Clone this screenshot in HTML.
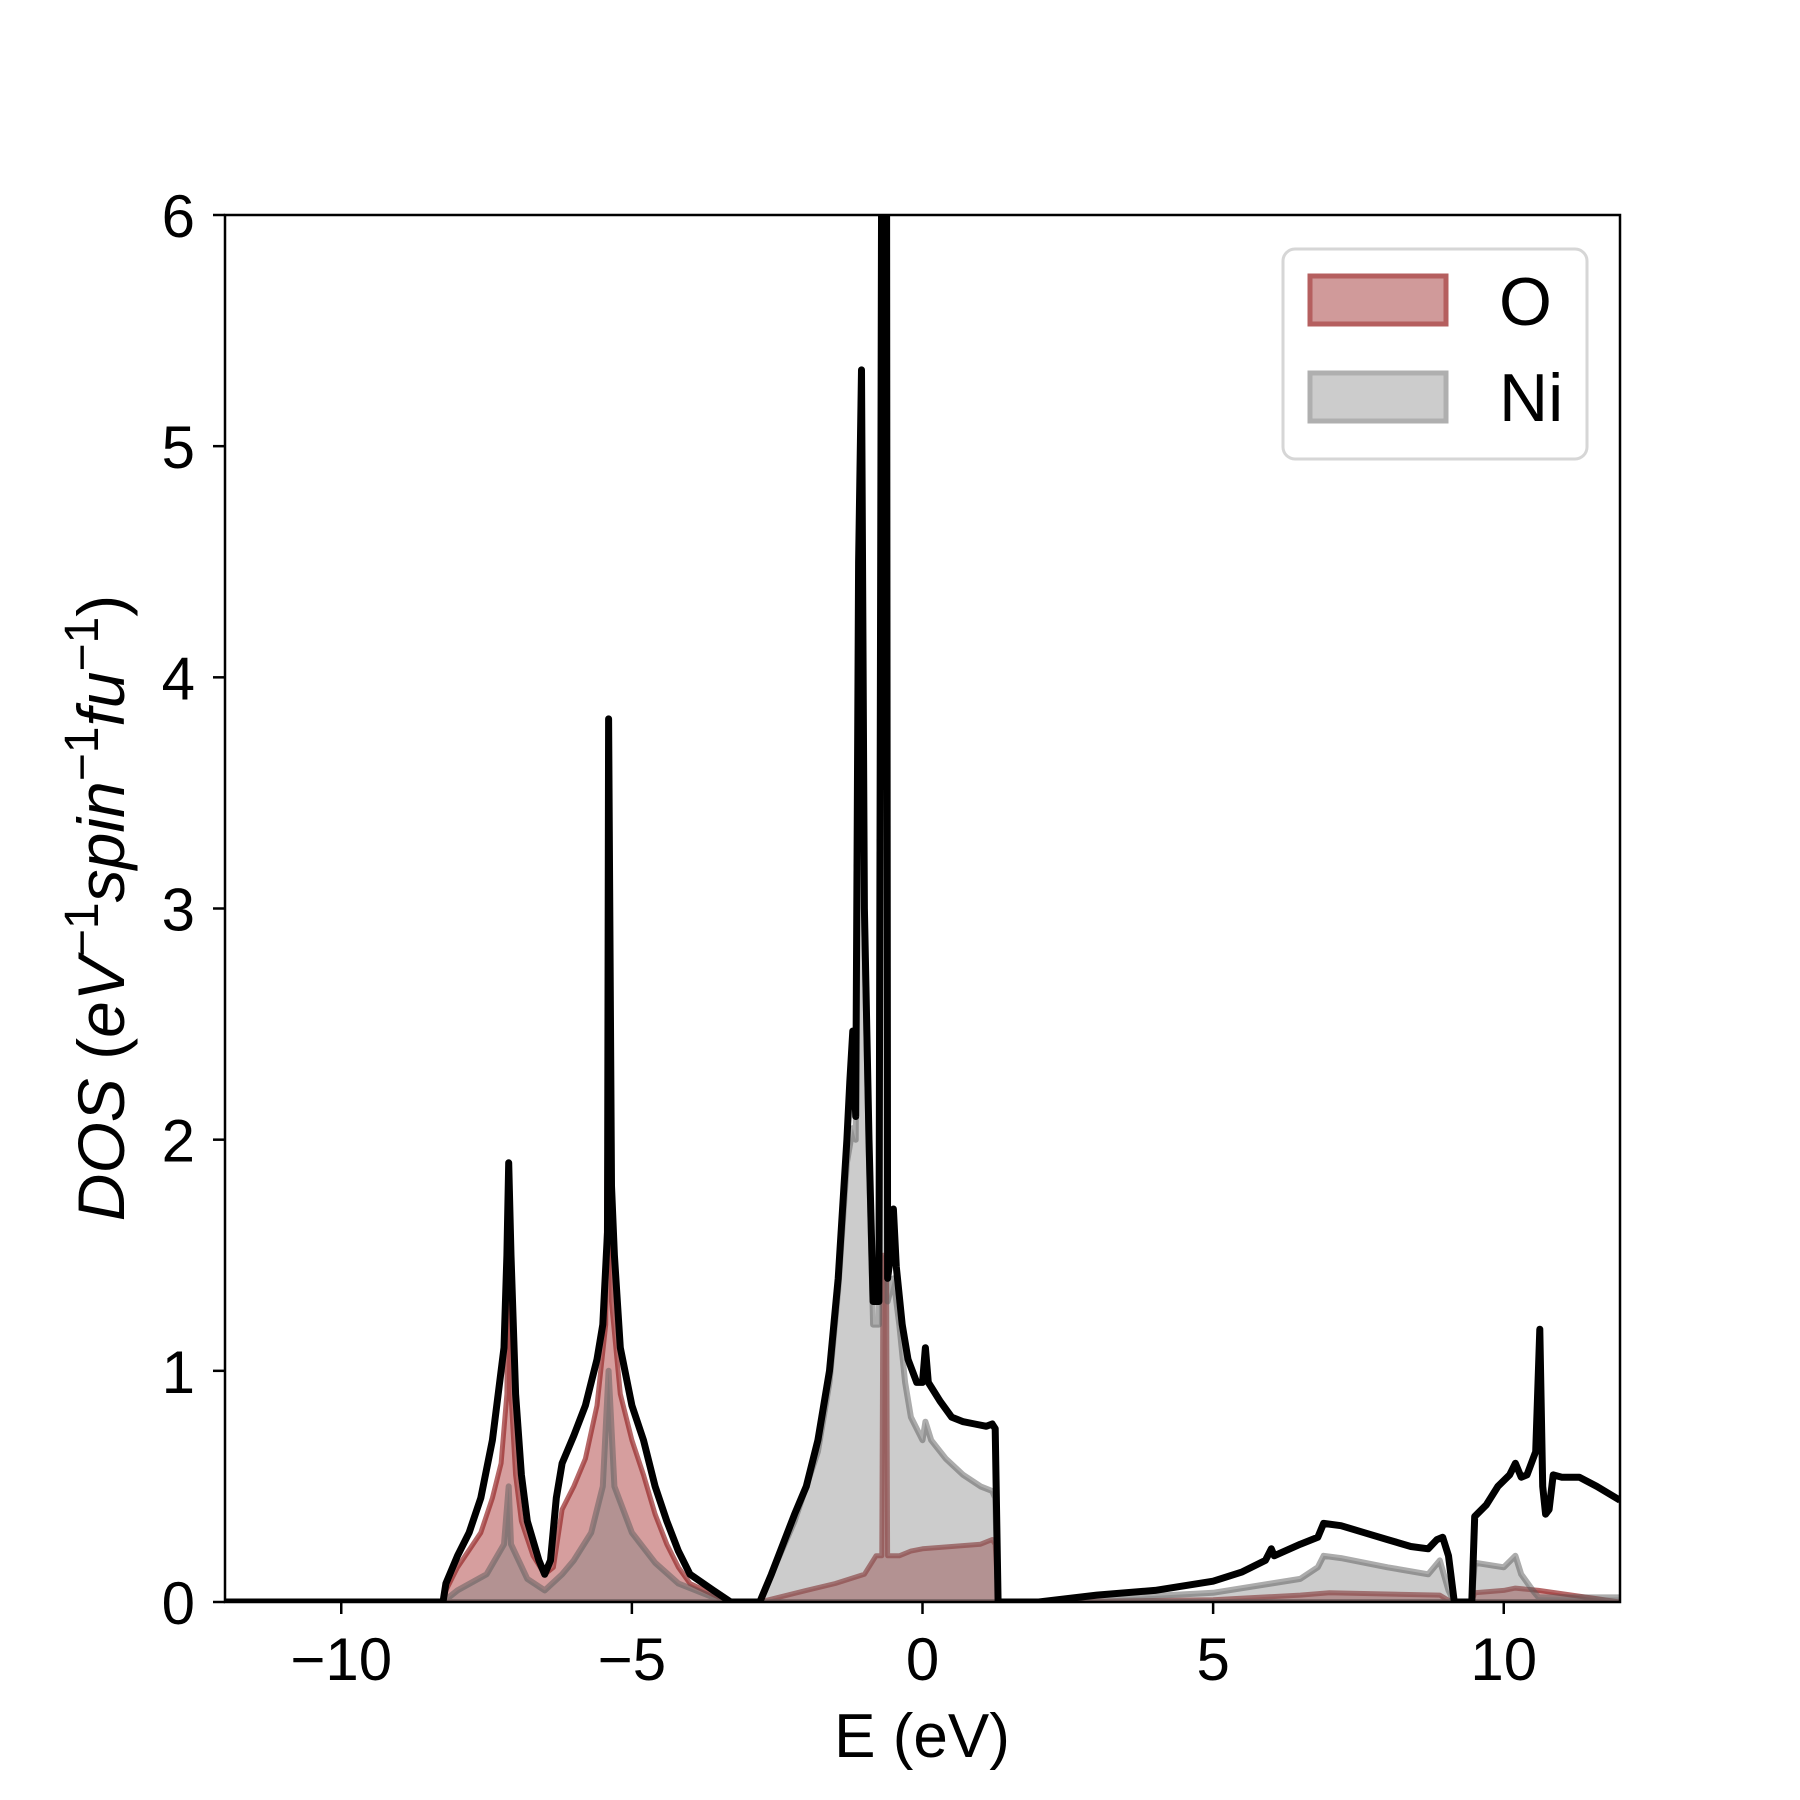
<!DOCTYPE html>
<html><head><meta charset="utf-8"><style>
html,body{margin:0;padding:0;background:#fff}
svg{display:block}
text{font-family:"Liberation Sans","DejaVu Sans",sans-serif;fill:#000}
</style></head><body>
<svg id="chart" width="1800" height="1800" viewBox="0 0 1800 1800">
<defs><clipPath id="plotclip"><rect x="225" y="215" width="1395" height="1387"/></clipPath></defs>
<g id="series" clip-path="url(#plotclip)"></g>
<rect x="225" y="215" width="1395" height="1387" fill="none" stroke="#000" stroke-width="2.5"/>
<g id="axes"></g>
<text x="922" y="1757" font-size="62" text-anchor="middle">E (eV)</text>
<text transform="translate(124,908) rotate(-90)" font-size="66" text-anchor="middle"><tspan font-style="italic">DOS</tspan> (<tspan font-style="italic">eV</tspan><tspan font-size="48" dy="-26">−1</tspan><tspan font-style="italic" dy="26">spin</tspan><tspan font-size="48" dy="-26">−1</tspan><tspan font-style="italic" dy="26">fu</tspan><tspan font-size="48" dy="-26">−1</tspan><tspan dy="26">)</tspan></text>
<g>
<rect x="1283" y="249" width="304" height="210" rx="12" fill="#fff" fill-opacity="0.85" stroke="#d6d6d6" stroke-width="3"/>
<rect x="1310" y="276" width="136" height="48" fill="#d09a9a" stroke="#b55f5f" stroke-width="5"/>
<text x="1499" y="325" font-size="68">O</text>
<rect x="1310" y="373" width="136" height="48" fill="#cccccc" stroke="#afafaf" stroke-width="5"/>
<text x="1499" y="421" font-size="68">Ni</text>
</g>
</svg>
<script>
const energyTotal=[-12,-8.25,-8.2,-8.0,-7.8,-7.6,-7.4,-7.3,-7.2,-7.15,-7.12,-7.08,-7.0,-6.9,-6.8,-6.6,-6.5,-6.4,-6.3,-6.2,-6.0,-5.8,-5.6,-5.5,-5.42,-5.4,-5.35,-5.3,-5.2,-5.0,-4.8,-4.6,-4.4,-4.2,-4.0,-3.6,-3.3,-2.8,-2.6,-2.4,-2.2,-2.0,-1.8,-1.6,-1.45,-1.3,-1.25,-1.2,-1.15,-1.1,-1.05,-1.0,-0.92,-0.85,-0.75,-0.7,-0.62,-0.6,-0.55,-0.5,-0.45,-0.35,-0.25,-0.1,0.0,0.05,0.1,0.3,0.5,0.7,0.9,1.1,1.2,1.25,1.3,2.0,3,4,5,5.5,5.9,6.0,6.05,6.5,6.8,6.9,7.2,7.6,8.0,8.4,8.7,8.85,8.95,9.05,9.15,9.45,9.5,9.7,9.9,10.1,10.2,10.3,10.4,10.55,10.62,10.67,10.72,10.78,10.85,11.0,11.3,11.6,12];
const dosTotal=[0,0,0.08,0.2,0.3,0.45,0.7,0.9,1.1,1.5,1.9,1.5,0.9,0.55,0.35,0.18,0.12,0.18,0.45,0.6,0.72,0.85,1.05,1.2,1.6,3.82,1.8,1.5,1.1,0.85,0.7,0.5,0.35,0.22,0.12,0.05,0,0,0.12,0.25,0.38,0.5,0.7,1.0,1.4,2.0,2.25,2.47,2.1,4.5,5.33,3.0,2.0,1.3,1.3,6.5,6.5,1.4,1.5,1.7,1.45,1.2,1.05,0.95,0.95,1.1,0.95,0.87,0.8,0.78,0.77,0.76,0.77,0.75,0,0,0.03,0.05,0.09,0.13,0.18,0.23,0.2,0.25,0.28,0.34,0.33,0.3,0.27,0.24,0.23,0.27,0.28,0.2,0,0,0.37,0.42,0.5,0.55,0.6,0.54,0.55,0.65,1.18,0.5,0.38,0.4,0.55,0.54,0.54,0.5,0.44];
const energyO=[-12,-8.25,-8.2,-8.0,-7.6,-7.4,-7.25,-7.15,-7.12,-7.08,-7.0,-6.9,-6.7,-6.5,-6.35,-6.2,-6.0,-5.8,-5.6,-5.45,-5.4,-5.35,-5.2,-5.0,-4.8,-4.6,-4.4,-4.2,-4.0,-3.5,-3.3,-2.8,-2.0,-1.5,-1.0,-0.8,-0.7,-0.68,-0.62,-0.6,-0.4,-0.2,0,0.5,1.0,1.2,1.25,1.3,2.0,5,6.5,7,8.9,9.1,9.45,9.5,10.0,10.2,10.6,12];
const dosO=[0,0,0.05,0.15,0.3,0.45,0.6,0.9,1.9,0.9,0.55,0.35,0.2,0.12,0.15,0.4,0.5,0.62,0.85,1.2,2.85,1.3,0.9,0.7,0.55,0.38,0.25,0.15,0.08,0.02,0,0,0.05,0.08,0.12,0.2,0.2,1.5,1.5,0.2,0.2,0.22,0.23,0.24,0.25,0.27,0.25,0,0,0.01,0.03,0.04,0.03,0,0,0.04,0.05,0.06,0.05,0];
const energyNi=[-12,-8.25,-8.0,-7.5,-7.2,-7.12,-7.08,-6.8,-6.5,-6.2,-6.0,-5.7,-5.5,-5.4,-5.3,-5.0,-4.6,-4.2,-3.6,-3.3,-2.8,-2.6,-2.2,-1.8,-1.6,-1.45,-1.3,-1.2,-1.15,-1.1,-1.05,-1.0,-0.92,-0.85,-0.75,-0.7,-0.62,-0.6,-0.5,-0.4,-0.3,-0.2,0,0.05,0.15,0.4,0.7,1.0,1.2,1.25,1.3,2,5,6,6.5,6.8,6.9,7.2,8.0,8.7,8.9,9.05,9.15,9.45,9.5,10.0,10.2,10.3,10.5,10.6,12];
const dosNi=[0,0,0.05,0.12,0.25,0.5,0.25,0.1,0.05,0.12,0.18,0.3,0.5,1.0,0.5,0.3,0.17,0.08,0.02,0,0,0.12,0.35,0.65,0.95,1.35,1.9,2.05,2.0,4.4,5.05,2.9,1.9,1.2,1.2,6.5,6.5,1.3,1.4,1.2,0.95,0.8,0.7,0.78,0.7,0.62,0.55,0.5,0.48,0.45,0,0,0.04,0.08,0.1,0.15,0.2,0.19,0.15,0.12,0.18,0.05,0,0,0.17,0.15,0.2,0.12,0.05,0.02,0.02];
const xTicks=[-10,-5,0,5,10];
const xTickLabels=["−10","−5","0","5","10"];
const yTicks=[0,1,2,3,4,5,6];
const yTickLabels=["0","1","2","3","4","5","6"];

const X0=225,X1=1620,Y0=1602,Y1=215,XMIN=-12,XMAX=12,YMIN=0,YMAX=6;
function sx(e){return X0+(e-XMIN)/(XMAX-XMIN)*(X1-X0);}
function sy(v){return Y0-(v-YMIN)/(YMAX-YMIN)*(Y0-Y1);}
const NS="http://www.w3.org/2000/svg";
const series=document.getElementById('series');
const axes=document.getElementById('axes');
function linePts(E,V){return E.map((e,i)=>sx(e).toFixed(1)+','+sy(V[i]).toFixed(1)).join(' ');}
function addFill(E,V,fill,stroke,sw,name){
  const p=document.createElementNS(NS,'polygon');
  p.setAttribute('points',sx(E[0])+','+sy(0)+' '+linePts(E,V)+' '+sx(E[E.length-1])+','+sy(0));
  p.setAttribute('fill',fill);p.setAttribute('stroke',stroke);p.setAttribute('stroke-width',sw);
  p.setAttribute('stroke-linejoin','round');
  
  
  series.appendChild(p);
}
addFill(energyO,dosO,'rgba(165,40,40,0.45)','rgba(150,40,40,0.7)',5,'o-dos-area');
addFill(energyNi,dosNi,'rgba(128,128,128,0.4)','rgba(90,90,90,0.5)',6,'ni-dos-area');
const tl=document.createElementNS(NS,'polyline');
tl.setAttribute('points',linePts(energyTotal,dosTotal));
tl.setAttribute('fill','none');tl.setAttribute('stroke','#000');tl.setAttribute('stroke-width','7');
tl.setAttribute('stroke-linejoin','round');


series.appendChild(tl);
xTicks.forEach((t,i)=>{
  const l=document.createElementNS(NS,'line');
  l.setAttribute('x1',sx(t));l.setAttribute('x2',sx(t));l.setAttribute('y1',Y0);l.setAttribute('y2',Y0+12);
  l.setAttribute('stroke','#000');l.setAttribute('stroke-width','2.5');
  
  
  axes.appendChild(l);
  const tx=document.createElementNS(NS,'text');
  tx.setAttribute('x',sx(t));tx.setAttribute('y',1680);tx.setAttribute('font-size','60');tx.setAttribute('text-anchor','middle');
  tx.textContent=xTickLabels[i];
  
  
  axes.appendChild(tx);
});
yTicks.forEach((t,i)=>{
  const l=document.createElementNS(NS,'line');
  l.setAttribute('x1',X0-12);l.setAttribute('x2',X0);l.setAttribute('y1',sy(t));l.setAttribute('y2',sy(t));
  l.setAttribute('stroke','#000');l.setAttribute('stroke-width','2.5');
  
  
  axes.appendChild(l);
  const tx=document.createElementNS(NS,'text');
  tx.setAttribute('x',195);tx.setAttribute('y',sy(t)+22);tx.setAttribute('font-size','60');tx.setAttribute('text-anchor','end');
  tx.textContent=yTickLabels[i];
  
  
  axes.appendChild(tx);
});
</script>
</body></html>
